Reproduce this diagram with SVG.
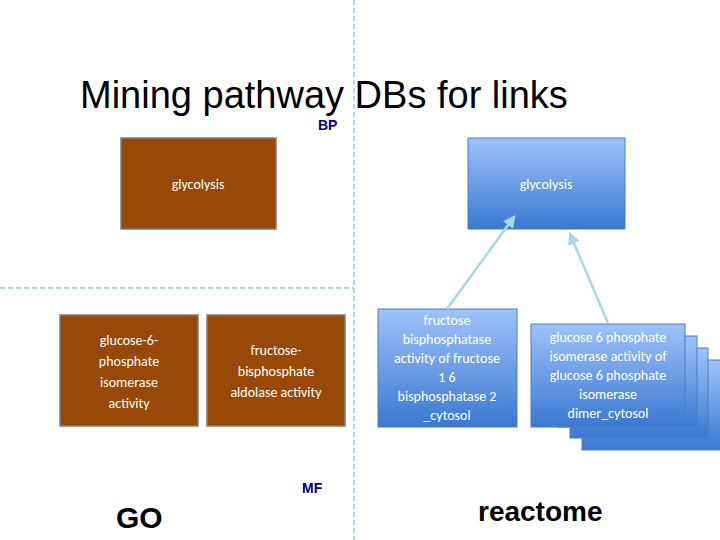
<svg xmlns="http://www.w3.org/2000/svg" width="720" height="540" viewBox="0 0 720 540">
<defs>
<linearGradient id="bg" x1="0" y1="0" x2="0" y2="1"><stop offset="0" stop-color="#9ec3fa"/><stop offset="1" stop-color="#3b78d0"/></linearGradient>
<marker id="ah" viewBox="0 0 10 10" refX="8" refY="5" markerWidth="5" markerHeight="5" orient="auto"><path d="M0,0 L10,5 L0,10 z" fill="#a8d8e0"/></marker>
<style>
.br{fill:#984807;stroke:#7f7f7f;stroke-width:1.5}
.bl{fill:url(#bg);stroke:#4a7ebb;stroke-width:1}
.t{font-family:Calibri,"Carlito","Liberation Sans",sans-serif;font-size:14px;fill:#ffffff;text-anchor:middle}
.dash{stroke:#b4d4e4;stroke-width:2;stroke-dasharray:5,3;fill:none}
.lbl{font-family:"Liberation Sans",Arial,sans-serif;font-weight:bold;fill:#000}
</style>
</defs>
<rect width="720" height="540" fill="#fff"/>
<line class="dash" x1="354" y1="0" x2="354" y2="540"/>
<line class="dash" x1="0" y1="288" x2="354" y2="288"/>
<text x="80" y="108" font-family="'Liberation Sans',Arial,sans-serif" font-size="38" fill="#000">Mining pathway DBs for links</text>
<text class="lbl" x="318" y="130" font-size="14" fill="#000080" style="fill:#000080">BP</text>
<text class="lbl" x="302" y="493" font-size="14" style="fill:#000080">MF</text>
<text class="lbl" x="116" y="528" font-size="30">GO</text>
<text class="lbl" x="478" y="521" font-size="28">reactome</text>
<g id="go-glycolysis"><rect class="br" x="121" y="138" width="155" height="91"/><text class="t" x="198" y="189">glycolysis</text></g>
<g id="go-g6p"><rect class="br" x="60" y="315" width="138" height="111"/><text class="t" x="129" y="345">glucose-6-</text><text class="t" x="129" y="366">phosphate</text><text class="t" x="129" y="387">isomerase</text><text class="t" x="129" y="408">activity</text></g>
<g id="go-fba"><rect class="br" x="207" y="315" width="138" height="111"/><text class="t" x="276" y="355">fructose-</text><text class="t" x="276" y="376">bisphosphate</text><text class="t" x="276" y="397">aldolase activity</text></g>
<g id="r-glycolysis"><rect class="bl" x="468" y="138" width="157" height="91"/><text class="t" x="546" y="189">glycolysis</text></g>
<g id="r-fbp"><rect class="bl" x="378" y="309" width="139" height="118"/>
<text class="t" x="447" y="325">fructose</text><text class="t" x="447" y="344">bisphosphatase</text><text class="t" x="447" y="363">activity of fructose</text><text class="t" x="447" y="382">1 6</text><text class="t" x="447" y="401">bisphosphatase 2</text><text class="t" x="447" y="420">_cytosol</text></g>
<g id="r-g6pi">
<rect class="bl" x="582" y="360" width="140" height="90"/>
<rect class="bl" x="570" y="348" width="138" height="90"/>
<rect class="bl" x="558" y="336" width="139" height="91"/>
<rect class="bl" x="531" y="324" width="154" height="103"/>
<text class="t" x="608" y="342">glucose 6 phosphate</text><text class="t" x="608" y="361">isomerase activity of</text><text class="t" x="608" y="380">glucose 6 phosphate</text><text class="t" x="608" y="399">isomerase</text><text class="t" x="608" y="418">dimer_cytosol</text></g>
<g id="connectors" stroke="#a8d8e0" stroke-width="2.5" fill="none">
<line x1="447" y1="309" x2="514" y2="217" marker-end="url(#ah)"/>
<line x1="608" y1="323" x2="570" y2="234" marker-end="url(#ah)"/>
</g>
</svg>
